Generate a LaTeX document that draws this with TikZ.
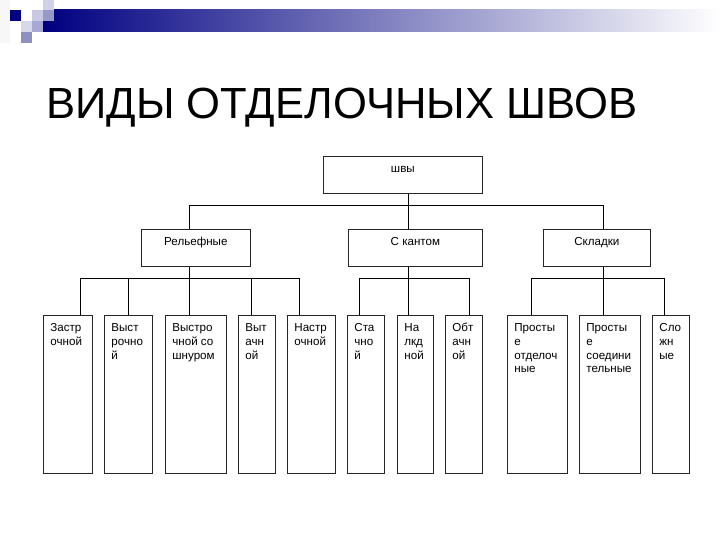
\documentclass[tikz,border=0pt]{standalone}
\usepackage{fontspec}
\setmainfont{Liberation Sans}
\definecolor{navy}{RGB}{0,0,128}
\newcommand{\lineup}{\rule{0pt}{10pt}}

\begin{document}
\begin{tikzpicture}[
  x=1pt, y=-1pt,
  box/.style={draw=black!85, line width=0.75pt, fill=white, inner sep=0pt, anchor=north west},
  txt/.style={inner sep=0pt, align=left, font=\fontsize{11.6}{13.9}\selectfont},
  wire/.style={draw=black, line width=0.75pt}
]
\useasboundingbox (0,0) rectangle (720,540);

% top band
\fill[black!3] (0,0) rectangle (10,43);
\shade[left color=navy, right color=white] (43,10) rectangle (720,32);
\fill[navy] (10,10) rectangle (21,21);
\fill[fill={rgb,255:red,200;green,200;blue,228}] (32,10) rectangle (43,21);
\fill[fill={rgb,255:red,208;green,208;blue,232}] (43,0) rectangle (54,10);
\fill[fill={rgb,255:red,152;green,152;blue,200}] (43,10) rectangle (54,21);
\fill[fill={rgb,255:red,216;green,216;blue,236}] (21,21) rectangle (32,32);
\fill[fill={rgb,255:red,168;green,168;blue,212}] (32,21) rectangle (43,32);
\fill[fill={rgb,255:red,144;green,144;blue,192}] (21,32) rectangle (32,43);

\node[anchor=base west, inner sep=0pt, font=\fontsize{43.6}{50}\selectfont] (title) at (46,119) {ВИДЫ ОТДЕЛОЧНЫХ ШВОВ};

% level 1 and 2
\node[box, minimum width=159pt, minimum height=37pt] (root) at (323,156) {};
\node[box, minimum width=109pt, minimum height=37pt] (rel)  at (141,229) {};
\node[box, minimum width=134pt, minimum height=37pt] (kant) at (348,229) {};
\node[box, minimum width=107pt, minimum height=37pt] (skl)  at (543,229) {};
\node[txt, anchor=north] (root-t) at ([yshift=-6pt]root.north) {\lineup швы};
\node[txt, anchor=north] (rel-t)  at ([yshift=-6pt]rel.north)  {\lineup Рельефные};
\node[txt, anchor=north] (kant-t) at ([yshift=-6pt]kant.north) {\lineup С кантом};
\node[txt, anchor=north] (skl-t)  at ([yshift=-6pt]skl.north)  {\lineup Складки};

% level 3
\node[box, minimum width=49pt, minimum height=158pt] (zastr) at (43,315) {};
\node[box, minimum width=48pt, minimum height=158pt] (vystr) at (104,315) {};
\node[box, minimum width=61pt, minimum height=158pt] (shnur) at (165,315) {};
\node[box, minimum width=37pt, minimum height=158pt] (vyt)   at (238,315) {};
\node[box, minimum width=48pt, minimum height=158pt] (nastr) at (287,315) {};
\node[box, minimum width=37pt, minimum height=158pt] (stach) at (347,315) {};
\node[box, minimum width=36pt, minimum height=158pt] (nakl)  at (397,315) {};
\node[box, minimum width=37pt, minimum height=158pt] (obt)   at (445,315) {};
\node[box, minimum width=60pt, minimum height=158pt] (potd)  at (507,315) {};
\node[box, minimum width=61pt, minimum height=158pt] (psoed) at (579,315) {};
\node[box, minimum width=37pt, minimum height=158pt] (slozh) at (652,315) {};

\node[txt, anchor=north west] (zastr-t) at ([shift={(7.2,6)}]zastr.north west) {\lineup Застр\\очной};
\node[txt, anchor=north west] (vystr-t) at ([shift={(7.2,6)}]vystr.north west) {\lineup Выст\\рочно\\й};
\node[txt, anchor=north west] (shnur-t) at ([shift={(7.2,6)}]shnur.north west) {\lineup Выстро\\чной со\\шнуром};
\node[txt, anchor=north west] (vyt-t)   at ([shift={(7.2,6)}]vyt.north west)   {\lineup Выт\\ачн\\ой};
\node[txt, anchor=north west] (nastr-t) at ([shift={(7.2,6)}]nastr.north west) {\lineup Настр\\очной};
\node[txt, anchor=north west] (stach-t) at ([shift={(7.2,6)}]stach.north west) {\lineup Ста\\чно\\й};
\node[txt, anchor=north west] (nakl-t)  at ([shift={(7.2,6)}]nakl.north west)  {\lineup На\\лкд\\ной};
\node[txt, anchor=north west] (obt-t)   at ([shift={(7.2,6)}]obt.north west)   {\lineup Обт\\ачн\\ой};
\node[txt, anchor=north west] (potd-t)  at ([shift={(7.2,6)}]potd.north west)  {\lineup Просты\\е\\отделоч\\ные};
\node[txt, anchor=north west] (psoed-t) at ([shift={(7.2,6)}]psoed.north west) {\lineup Просты\\е\\соедини\\тельные};
\node[txt, anchor=north west] (slozh-t) at ([shift={(7.2,6)}]slozh.north west) {\lineup Сло\\жн\\ые};

% connectors
\coordinate (j0) at (408,205);
\coordinate (jr) at (189,205);
\coordinate (js) at (603,205);
\draw[wire] (j0 |- root.south) -- (j0 |- kant.north);
\draw[wire] (jr |- rel.north) -- (jr) -- (js) -- (js |- skl.north);

\coordinate (r1) at (80,278);
\coordinate (r4) at (251,278);
\coordinate (r5) at (299,278);
\draw[wire] (r1 |- zastr.north) -- (r1) -- (r5) -- (r5 |- nastr.north);
\draw[wire] (jr |- rel.south) -- (jr |- shnur.north);
\draw[wire] (vystr.north) -- (vystr.north |- r1);
\draw[wire] (r4) -- (r4 |- vyt.north);

\coordinate (k1) at (359,278);
\coordinate (k3) at (469,278);
\draw[wire] (k1 |- stach.north) -- (k1) -- (k3) -- (k3 |- obt.north);
\draw[wire] (j0 |- kant.south) -- (j0 |- nakl.north);

\coordinate (s1) at (531,278);
\coordinate (s3) at (664,278);
\draw[wire] (s1 |- potd.north) -- (s1) -- (s3) -- (s3 |- slozh.north);
\draw[wire] (js |- skl.south) -- (js |- psoed.north);
\end{tikzpicture}
\end{document}
